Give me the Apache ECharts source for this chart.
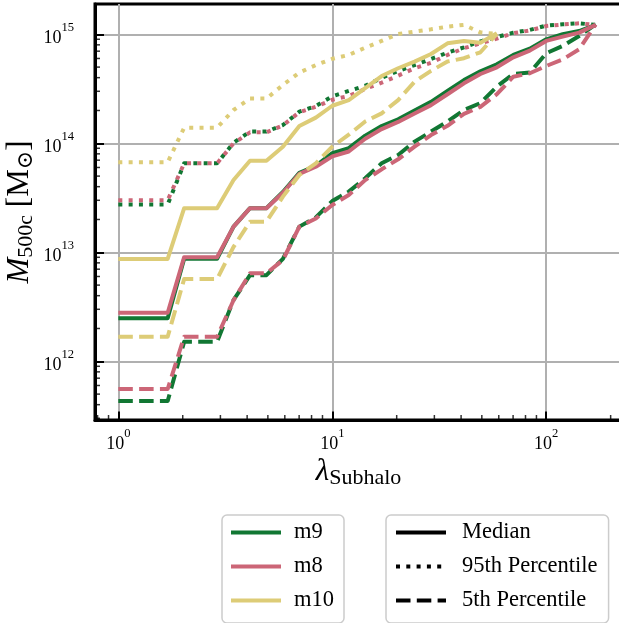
<!DOCTYPE html>
<html><head><meta charset="utf-8">
<script src="https://cdn.jsdelivr.net/npm/echarts@6/dist/echarts.min.js"></script>
<style>html,body{margin:0;padding:0;background:#fff;}#chart{width:619px;height:623px;}</style>
</head><body><div id="chart"></div>
<script>
// lambda grid (x values)
const lambdaGrid = [1, 1.194, 1.425, 1.701, 2.031, 2.424, 2.894, 3.455, 4.125, 4.924, 5.878, 7.017, 8.377, 10,
  11.94, 14.25, 17.01, 20.31, 24.24, 28.94, 34.55, 41.25, 49.24, 58.78, 70.17, 83.77, 100, 119.4, 142.5, 170.1];

const m9Median = [2.48e12,2.48e12,2.48e12,2.48e12, 8.71e12,8.71e12,8.71e12, 1.72e13, 2.54e13,2.54e13,
  3.57e13,5.37e13,6.22e13,8.13e13,9.02e13,1.175e14,1.44e14,1.66e14,2.0e14,2.40e14,
  3.02e14,3.80e14,4.57e14,5.31e14,6.46e14,7.38e14,8.99e14,1.0e15,1.07e15,1.22e15];
const m9P95 = [2.74e13,2.74e13,2.74e13,2.74e13, 6.55e13,6.55e13,6.55e13, 1.01e14, 1.28e14,1.28e14,
  1.47e14,1.95e14,2.20e14,2.69e14,3.02e14,3.37e14,3.98e14,4.60e14,5.22e14,5.93e14,
  6.78e14,7.59e14,8.61e14,9.44e14,1.035e15,1.096e15,1.20e15,1.236e15,1.26e15,1.22e15];
const m9P5 = [4.33e11,4.33e11,4.33e11,4.33e11, 1.51e12,1.51e12,1.51e12, 3.65e12, 6.17e12,6.17e12,
  8.71e12,1.72e13,2.09e13,2.95e13,3.60e13,4.78e13,6.55e13,7.82e13,1.035e14,1.28e14,
  1.585e14,2.02e14,2.34e14,3.31e14,4.33e14,4.45e14,6.70e14,7.82e14,9.64e14,1.23e15];

const m8Median = [2.79e12,2.79e12,2.79e12,2.79e12, 9.02e12,9.02e12,9.02e12, 1.72e13, 2.54e13,2.54e13,
  3.52e13,5.25e13,6.10e13,7.59e13,8.41e13,1.10e14,1.35e14,1.57e14,1.88e14,2.24e14,
  2.82e14,3.55e14,4.32e14,4.98e14,6.15e14,7.08e14,8.69e14,9.51e14,1.035e15,1.22e15];
const m8P95 = [3.0e13,3.0e13,3.0e13,3.0e13, 6.55e13,6.55e13,6.55e13, 1.0e14, 1.26e14,1.26e14,
  1.46e14,1.93e14,2.16e14,2.51e14,2.72e14,3.15e14,3.60e14,4.17e14,4.88e14,5.48e14,
  6.46e14,7.45e14,8.26e14,9.12e14,1.023e15,1.084e15,1.19e15,1.23e15,1.26e15,1.22e15];
const m8P5 = [5.57e11,5.57e11,5.57e11,5.57e11, 1.68e12,1.68e12,1.68e12, 3.63e12, 6.41e12,6.41e12,
  8.51e12,1.72e13,2.04e13,2.72e13,3.36e13,4.60e13,5.77e13,7.13e13,9.31e13,1.19e14,
  1.445e14,1.86e14,2.16e14,2.82e14,4.08e14,4.39e14,5.12e14,5.89e14,7.28e14,1.23e15];

const m10Median = [8.69e12,8.69e12,8.69e12,8.69e12, 2.54e13,2.54e13,2.54e13, 4.60e13, 6.92e13,6.92e13,
  9.31e13,1.44e14,1.72e14,2.21e14,2.49e14,3.20e14,4.14e14,4.88e14,5.61e14,6.59e14,
  8.26e14,8.69e14,8.38e14,1.02e15];
const m10P95 = [6.70e13,6.70e13,6.70e13,6.70e13, 1.39e14,1.39e14,1.39e14, 2.02e14, 2.57e14,2.57e14,
  3.43e14,4.45e14,5.22e14,5.96e14,6.46e14,7.53e14,8.69e14,1.007e15,1.057e15,1.11e15,
  1.175e15,1.22e15,1.04e15,1.007e15];
const m10P5 = [1.68e12,1.68e12,1.68e12,1.68e12, 5.69e12,5.69e12,5.69e12, 1.12e13, 1.91e13,1.91e13,
  3.24e13,5.12e13,6.55e13,9.31e13,1.20e14,1.585e14,1.88e14,2.49e14,3.67e14,4.62e14,
  5.62e14,6.03e14,6.84e14,1.01e15];

const modelNames = ['m9', 'm8', 'm10'];
const statNames = ['Median', '95th Percentile', '5th Percentile'];
const xMinorTicks = [0.8, 0.9, 2, 3, 4, 5, 6, 7, 8, 9, 20, 30, 40, 50, 60, 70, 80, 90, 200];
const yMinorTicks = [3e11,4e11,5e11,6e11,7e11,8e11,9e11, 2e12,3e12,4e12,5e12,6e12,7e12,8e12,9e12,
  2e13,3e13,4e13,5e13,6e13,7e13,8e13,9e13, 2e14,3e14,4e14,5e14,6e14,7e14,8e14,9e14];

const X_MIN = 0.778, X_MAX = 226, Y_MIN = 2.894e11, Y_MAX = 1.896e15;
const FONT = "'Liberation Serif', 'DejaVu Serif', serif";
const colors = {m9: '#117733', m8: '#CC6677', m10: '#DDCC77'};
const dashDotted = [4, 6.3], dashDashed = [14.5, 6.3];
const LW = 4;

function pairs(vals) { return vals.map((v, i) => [lambdaGrid[i], v]); }
function powLabel(v) {
  const e = Math.log10(v); const r = Math.round(e);
  if (Math.abs(e - r) > 1e-6) return '';
  return '{b|10}{s|' + r + '}';
}
const tickRich = {
  b: {fontFamily: FONT, fontSize: 18, lineHeight: 26, verticalAlign: 'bottom', color: '#000'},
  s: {fontFamily: FONT, fontSize: 12.6, lineHeight: 14, verticalAlign: 'top', color: '#000'}
};
const nameRich = {
  i: {fontFamily: FONT, fontSize: 31, fontStyle: 'italic', lineHeight: 34, color: '#000'},
  r: {fontFamily: FONT, fontSize: 31, lineHeight: 34, color: '#000'},
  sb: {fontFamily: FONT, fontSize: 22, lineHeight: 18, verticalAlign: 'bottom', color: '#000'}
};

const modelData = {
  m9: [m9Median, m9P95, m9P5],
  m8: [m8Median, m8P95, m8P5],
  m10: [m10Median, m10P95, m10P5]
};
const styleTypes = ['solid', dashDotted, dashDashed];

const series = [];
modelNames.forEach(m => {
  modelData[m].forEach((vals, j) => {
    series.push({
      name: m, type: 'line', data: pairs(vals), symbol: 'none', smooth: false,
      lineStyle: {color: colors[m], width: LW, type: styleTypes[j], cap: 'butt', join: 'round'},
      itemStyle: {color: colors[m]}, z: 3, animation: false
    });
  });
});
statNames.forEach((s, j) => {
  series.push({
    name: s, type: 'line', data: [], symbol: 'none',
    lineStyle: {color: '#000', width: LW, type: styleTypes[j]}, itemStyle: {color: '#000'}, animation: false
  });
});
series.push({
  type: 'scatter', data: xMinorTicks.map(v => [v, Y_MIN]), symbol: 'rect', symbolSize: [1.5, 6],
  symbolOffset: [0, -2], itemStyle: {color: '#000'}, silent: true, clip: false, z: 10, animation: false
});
series.push({
  type: 'scatter', data: yMinorTicks.map(v => [X_MIN, v]), symbol: 'rect', symbolSize: [6, 1.5],
  symbolOffset: [2, 0], itemStyle: {color: '#000'}, silent: true, clip: false, z: 10, animation: false
});

function legendCfg(names, left, padding, textPad) {
  return {
    data: names, left: left, top: 515, padding: padding,
    orient: 'vertical', itemWidth: 50, itemHeight: 20, itemGap: 11,
    backgroundColor: 'rgba(255,255,255,0.85)', borderColor: '#cccccc', borderWidth: 1.5, borderRadius: 5,
    textStyle: {fontFamily: FONT, fontSize: 22.5, lineHeight: 22, color: '#000', padding: [0, 0, 0, textPad]},
    lineStyle: {width: LW},
    itemStyle: {color: 'rgba(0,0,0,0)', borderColor: 'rgba(0,0,0,0)', borderWidth: 0, opacity: 0},
    selectedMode: false
  };
}

const option = {
  animation: false,
  backgroundColor: '#fff',
  grid: {left: 95, top: 4, width: 527, height: 416, containLabel: false, outerBoundsMode: 'none',
    show: true, borderColor: '#000', borderWidth: 3, backgroundColor: 'transparent'},
  xAxis: {
    type: 'log', logBase: 10, min: X_MIN, max: X_MAX,
    name: '{i|λ}{sb|Subhalo}', nameLocation: 'middle', nameGap: 35, nameMoveOverlap: false,
    nameTextStyle: {rich: nameRich},
    axisLine: {show: true, lineStyle: {color: '#000', width: 3}},
    axisTick: {show: true, inside: true, length: 8.5, lineStyle: {color: '#000', width: 2}},
    axisLabel: {formatter: powLabel, margin: 7, rich: tickRich, showMinLabel: true, showMaxLabel: true, hideOverlap: false},
    splitLine: {show: true, showMinLine: false, showMaxLine: false, lineStyle: {color: '#b0b0b0', width: 2}},
    minorTick: {show: false}, minorSplitLine: {show: false}
  },
  yAxis: {
    type: 'log', logBase: 10, min: Y_MIN, max: Y_MAX,
    name: '{i|M}{sb|500c}{r| [M}{sb|⊙}{r|]}', nameLocation: 'middle', nameGap: 58, nameMoveOverlap: false,
    nameTextStyle: {rich: nameRich},
    axisLine: {show: true, lineStyle: {color: '#000', width: 3}},
    axisTick: {show: true, inside: true, length: 9, lineStyle: {color: '#000', width: 2}},
    axisLabel: {formatter: powLabel, margin: 21, rich: tickRich, hideOverlap: false},
    splitLine: {show: true, showMinLine: false, showMaxLine: false, lineStyle: {color: '#b0b0b0', width: 2}},
    minorTick: {show: false}, minorSplitLine: {show: false}
  },
  legend: [
    legendCfg(modelNames, 222, [6, 10, 11, 7], 8),
    legendCfg(statNames, 386, [6, 11, 11, 8], 11)
  ],
  series: series
};
const chart = echarts.init(document.getElementById('chart'), null, {renderer: 'canvas'});
chart.setOption(option);
</script></body></html>
